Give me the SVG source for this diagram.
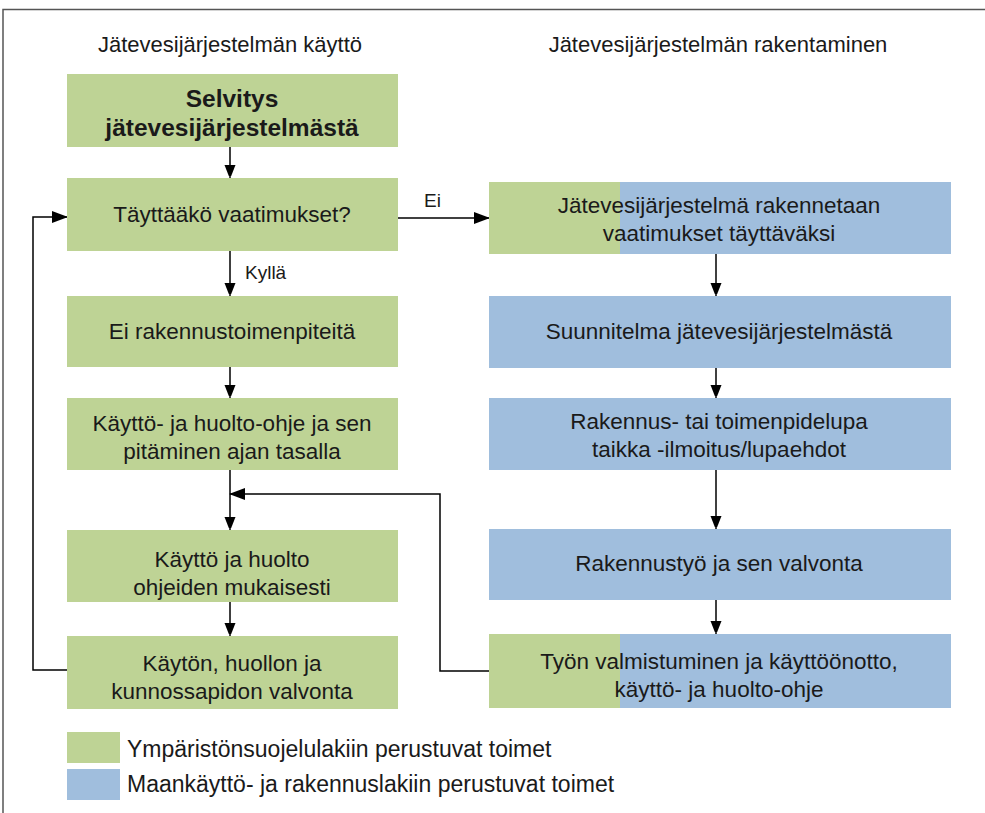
<svg xmlns="http://www.w3.org/2000/svg" width="985" height="813" viewBox="0 0 985 813">
<style>
.g{fill:#bed395}
.b{fill:#a0bedd}
text{font-family:"Liberation Sans",Arial,sans-serif;font-size:22.5px;fill:#1a1a1a;text-anchor:middle}
.l{text-anchor:start}
.h{font-size:22px}
.lg{font-size:23px}
.bold{font-weight:bold;font-size:24.5px}
.ln{fill:none;stroke:#000;stroke-width:1.5}
</style>
<defs>
<marker id="ah" markerWidth="11" markerHeight="14" refX="13" refY="5.5" orient="auto" markerUnits="userSpaceOnUse">
<path d="M0,0 L14,5.5 L0,11 z" fill="#000"/>
</marker>
<marker id="ahl" markerWidth="16" markerHeight="12" refX="15" refY="6" orient="auto" markerUnits="userSpaceOnUse">
<path d="M0,0 L16,6 L0,12 z" fill="#000"/>
</marker>
</defs>
<rect width="985" height="813" fill="#fff"/>
<path d="M3,813 V9.5 H985" fill="none" stroke="#555" stroke-width="1.5"/>
<text class="h" x="230" y="52">Jätevesijärjestelmän käyttö</text>
<text class="h" x="718" y="52">Jätevesijärjestelmän rakentaminen</text>

<g id="connectors">
<line class="ln" x1="230" y1="147" x2="230" y2="178" marker-end="url(#ah)"/>
<line class="ln" x1="230" y1="251" x2="230" y2="296" marker-end="url(#ah)"/>
<line class="ln" x1="230" y1="367" x2="230" y2="398" marker-end="url(#ah)"/>
<line class="ln" x1="230" y1="470" x2="230" y2="530" marker-end="url(#ah)"/>
<line class="ln" x1="230" y1="602" x2="230" y2="636" marker-end="url(#ah)"/>
<line class="ln" x1="398" y1="218" x2="489" y2="218" marker-end="url(#ahl)"/>
<polyline class="ln" points="67,670 33,670 33,217 67,217" marker-end="url(#ahl)"/>
<line class="ln" x1="716" y1="254" x2="716" y2="296" marker-end="url(#ah)"/>
<line class="ln" x1="716" y1="368" x2="716" y2="398" marker-end="url(#ah)"/>
<line class="ln" x1="716" y1="470" x2="716" y2="529" marker-end="url(#ah)"/>
<line class="ln" x1="716" y1="600" x2="716" y2="634" marker-end="url(#ah)"/>
<polyline class="ln" points="489,671 440,671 440,494 230,494" marker-end="url(#ahl)"/>
<text class="l" x="245" y="279" style="font-size:19px">Kyllä</text>
<text class="l" x="424" y="207" style="font-size:19px">Ei</text>
</g>

<g id="n1"><rect class="g" x="67" y="74" width="331" height="73"/>
<text class="bold" x="232" y="107">Selvitys</text><text class="bold" x="232" y="136">jätevesijärjestelmästä</text></g>
<g id="n2"><rect class="g" x="67" y="178" width="331" height="73"/>
<text x="232" y="222">Täyttääkö vaatimukset?</text></g>
<g id="n3"><rect class="g" x="67" y="296" width="331" height="71"/>
<text x="232" y="339">Ei rakennustoimenpiteitä</text></g>
<g id="n4"><rect class="g" x="67" y="398" width="331" height="72"/>
<text x="232" y="431">Käyttö- ja huolto-ohje ja sen</text><text x="232" y="459">pitäminen ajan tasalla</text></g>
<g id="n5"><rect class="g" x="67" y="530" width="331" height="72"/>
<text x="232" y="567">Käyttö ja huolto</text><text x="232" y="595">ohjeiden mukaisesti</text></g>
<g id="n6"><rect class="g" x="67" y="636" width="331" height="73"/>
<text x="232" y="671">Käytön, huollon ja</text><text x="232" y="699">kunnossapidon valvonta</text></g>

<g id="r1"><rect class="g" x="489" y="182" width="131" height="72"/><rect class="b" x="620" y="182" width="331" height="72"/>
<text x="719" y="213">Jätevesijärjestelmä rakennetaan</text><text x="719" y="241">vaatimukset täyttäväksi</text></g>
<g id="r2"><rect class="b" x="489" y="296" width="462" height="72"/>
<text x="719" y="339">Suunnitelma jätevesijärjestelmästä</text></g>
<g id="r3"><rect class="b" x="489" y="398" width="462" height="72"/>
<text x="719" y="429">Rakennus- tai toimenpidelupa</text><text x="719" y="457">taikka -ilmoitus/lupaehdot</text></g>
<g id="r4"><rect class="b" x="489" y="529" width="462" height="71"/>
<text x="719" y="571">Rakennustyö ja sen valvonta</text></g>
<g id="r5"><rect class="g" x="489" y="634" width="131" height="74"/><rect class="b" x="620" y="634" width="331" height="74"/>
<text x="719" y="669">Työn valmistuminen ja käyttöönotto,</text><text x="719" y="697">käyttö- ja huolto-ohje</text></g>

<g id="legend">
<rect class="g" x="67" y="732" width="53" height="31"/>
<rect class="b" x="67" y="769" width="53" height="31"/>
<text class="l lg" x="127" y="757">Ympäristönsuojelulakiin perustuvat toimet</text>
<text class="l lg" x="127" y="792">Maankäyttö- ja rakennuslakiin perustuvat toimet</text>
</g>
</svg>
